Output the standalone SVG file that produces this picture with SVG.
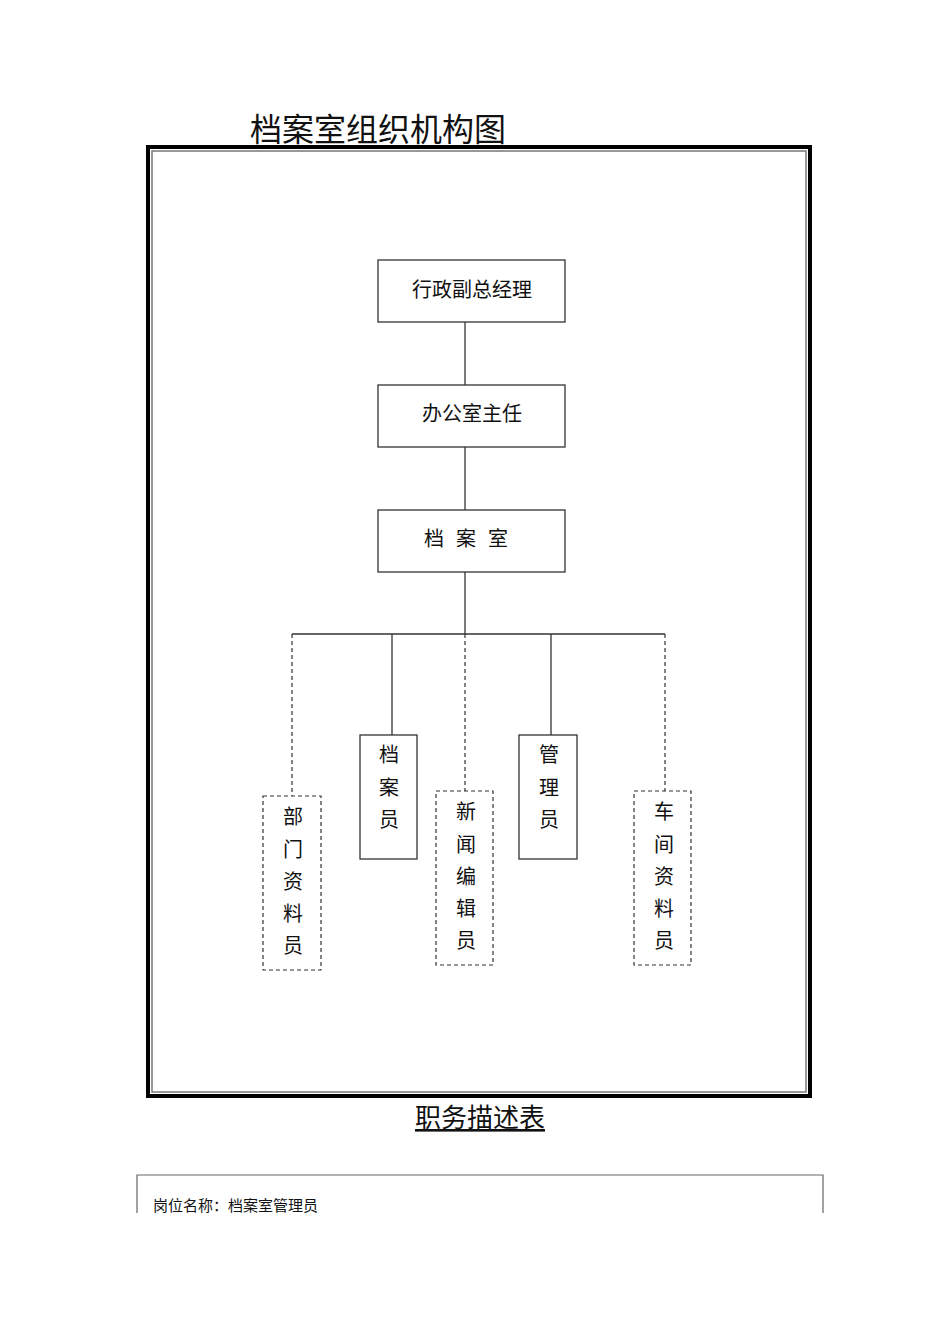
<svg xmlns="http://www.w3.org/2000/svg" width="950" height="1344" viewBox="0 0 950 1344">
<style>
text{font-family:"Noto Sans CJK SC","Liberation Sans",sans-serif;fill:#111}
.box{fill:#fff;stroke:#333;stroke-width:1.3}
.dash{fill:#fff;stroke:#333;stroke-width:1.2;stroke-dasharray:4 3}
.ln{stroke:#333;stroke-width:1.3;fill:none}
.dl{stroke:#333;stroke-width:1.2;fill:none;stroke-dasharray:4 3}
.t{font-size:20px;text-anchor:middle}
</style>
<rect width="950" height="1344" fill="#fff"/>
<text x="250" y="141" font-size="32">档案室组织机构图</text>
<rect x="148" y="147" width="662" height="949" fill="none" stroke="#000" stroke-width="4"/>
<rect x="152" y="151" width="654" height="941" fill="none" stroke="#777" stroke-width="1.5"/>
<g id="connectors">
<line class="ln" x1="465" y1="322" x2="465" y2="385"/>
<line class="ln" x1="465" y1="447" x2="465" y2="510"/>
<line class="ln" x1="465" y1="572" x2="465" y2="634"/>
<line class="ln" x1="292" y1="634" x2="665" y2="634"/>
<line class="dl" x1="292" y1="634" x2="292" y2="796"/>
<line class="ln" x1="392" y1="634" x2="392" y2="735"/>
<line class="dl" x1="465" y1="634" x2="465" y2="791"/>
<line class="ln" x1="551" y1="634" x2="551" y2="735"/>
<line class="dl" x1="665" y1="634" x2="665" y2="791"/>
</g>
<g id="n1"><rect class="box" x="378" y="260" width="187" height="62"/><text class="t" x="472" y="297">行政副总经理</text></g>
<g id="n2"><rect class="box" x="378" y="385" width="187" height="62"/><text class="t" x="472" y="421">办公室主任</text></g>
<g id="n3"><rect class="box" x="378" y="510" width="187" height="62"/><text class="t" x="472" y="546" letter-spacing="12">档案室</text></g>
<g id="n4"><rect class="dash" x="263" y="796" width="58" height="174"/><text class="t" x="292"><tspan x="293" y="824">部</tspan><tspan x="293" y="857">门</tspan><tspan x="293" y="889">资</tspan><tspan x="293" y="921">料</tspan><tspan x="293" y="953">员</tspan></text></g>
<g id="n5"><rect class="box" x="360" y="735" width="57" height="124"/><text class="t"><tspan x="389" y="762">档</tspan><tspan x="389" y="795">案</tspan><tspan x="389" y="827">员</tspan></text></g>
<g id="n6"><rect class="dash" x="436" y="791" width="57" height="174"/><text class="t"><tspan x="466" y="819">新</tspan><tspan x="466" y="852">闻</tspan><tspan x="466" y="884">编</tspan><tspan x="466" y="916">辑</tspan><tspan x="466" y="948">员</tspan></text></g>
<g id="n7"><rect class="box" x="519" y="735" width="58" height="124"/><text class="t"><tspan x="549" y="762">管</tspan><tspan x="549" y="795">理</tspan><tspan x="549" y="827">员</tspan></text></g>
<g id="n8"><rect class="dash" x="634" y="791" width="57" height="174"/><text class="t"><tspan x="664" y="819">车</tspan><tspan x="664" y="852">间</tspan><tspan x="664" y="884">资</tspan><tspan x="664" y="916">料</tspan><tspan x="664" y="948">员</tspan></text></g>
<text x="480" y="1127" font-size="26" text-anchor="middle" text-decoration="underline">职务描述表</text>
<path d="M137 1213V1175H823V1213" fill="none" stroke="#666" stroke-width="1.2"/>
<text x="153" y="1211" font-size="15">岗位名称：档案室管理员</text>
</svg>
